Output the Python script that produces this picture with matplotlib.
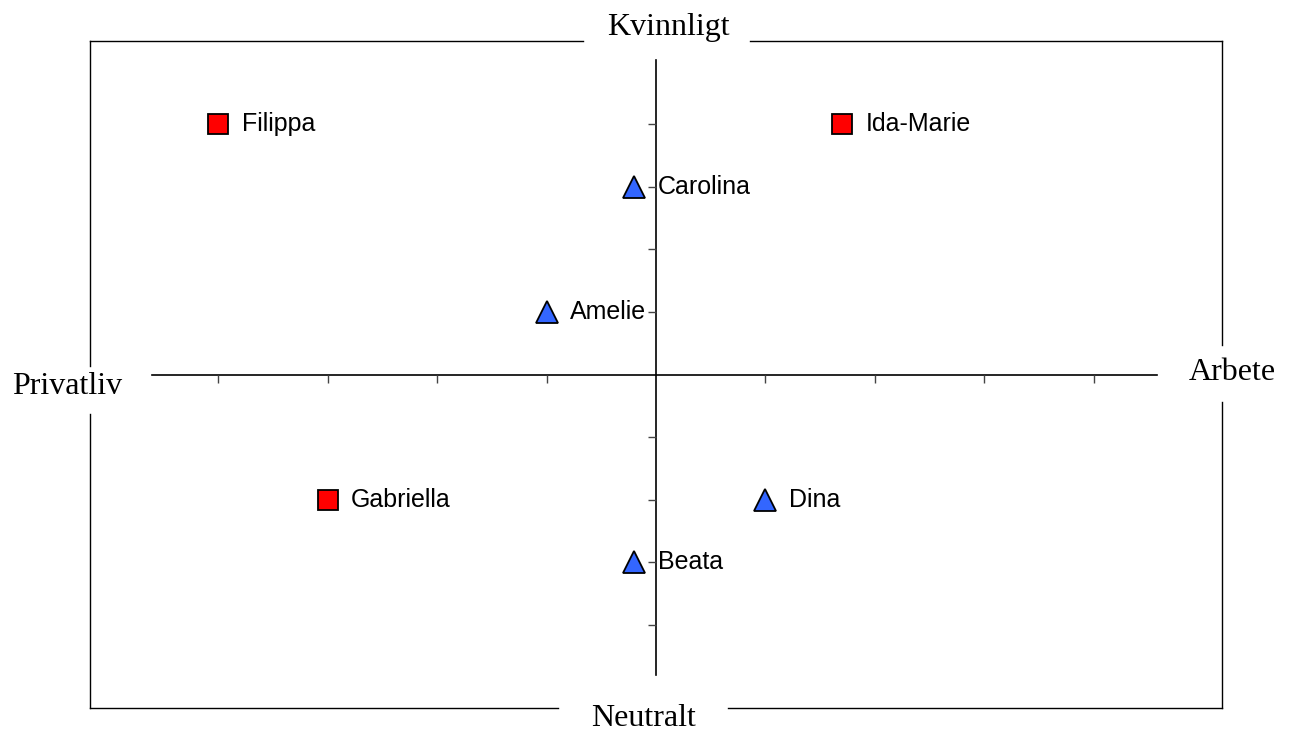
import matplotlib.pyplot as plt

# point data
names_sq = ['Filippa', 'Ida-Marie', 'Gabriella']
x_sq = [-4.0, 1.7, -3.0]
y_sq = [4.0, 4.0, -2.0]

names_tri = ['Carolina', 'Amelie', 'Dina', 'Beata']
x_tri = [-0.2, -1.0, 1.0, -0.2]
y_tri = [3.0, 1.0, -2.0, -3.0]

tick_vals = [-4, -3, -2, -1, 1, 2, 3, 4]

W, H = 1290, 731
fig = plt.figure(figsize=(W / 100, H / 100), dpi=100)
ax = fig.add_axes([90 / W, (H - 708) / H, 1132 / W, 667 / H])
ax.set_xlim(-5.17, 5.17)
ax.set_ylim(-5.33, 5.33)
ax.axis('off')


def fx(px):
    return (px - 90) / 1132


def fy(py):
    return (708 - py) / 667


# outer frame with gaps for the labels
frame = [((90, 41), (583, 41)), ((750, 41), (1222, 41)),
         ((90, 708), (558, 708)), ((728, 708), (1222, 708)),
         ((90, 41), (90, 366)), ((90, 414), (90, 708)),
         ((1222, 41), (1222, 345)), ((1222, 402), (1222, 708))]
for (x0, y0), (x1, y1) in frame:
    ax.plot([fx(x0), fx(x1)], [fy(y0), fy(y1)], color='black', lw=1.0,
            transform=ax.transAxes, clip_on=False, solid_capstyle='projecting')

# central axes
ax.plot([-4.6, 4.58], [0, 0], color='black', lw=1.2, zorder=1)
ax.plot([0, 0], [-4.81, 5.03], color='black', lw=1.2, zorder=1)
ax.plot(tick_vals, [0] * len(tick_vals), ls='none', marker=3, ms=6,
        mew=1, color='#444444', zorder=1)
ax.plot([0] * len(tick_vals), tick_vals, ls='none', marker=0, ms=6,
        mew=1, color='#444444', zorder=1)

ax.plot(x_sq, y_sq, ls='none', marker='s', ms=14, mfc='#FF0000',
        mec='black', mew=1.3, zorder=3)
ax.plot(x_tri, y_tri, ls='none', marker='^', ms=15.5, mfc='#3366FF',
        mec='black', mew=1.3, zorder=3)

for n, x, y in zip(names_sq + names_tri, x_sq + x_tri, y_sq + y_tri):
    ax.annotate(n, (x, y), xytext=(17, 0), textcoords='offset points',
                va='center', ha='left', fontsize=18,
                family='Liberation Sans', zorder=4)

# axis end labels
lab = dict(family='Liberation Serif', fontsize=23, ha='center', va='center',
           transform=ax.transAxes, clip_on=False)
ax.text(fx(668), fy(28), 'Kvinnligt', **lab)
ax.text(fx(644), fy(719), 'Neutralt', **lab)
ax.text(fx(67), fy(386), 'Privatliv', **lab)
ax.text(fx(1232), fy(372), 'Arbete', **lab)

fig.savefig('out.png', dpi=100)
